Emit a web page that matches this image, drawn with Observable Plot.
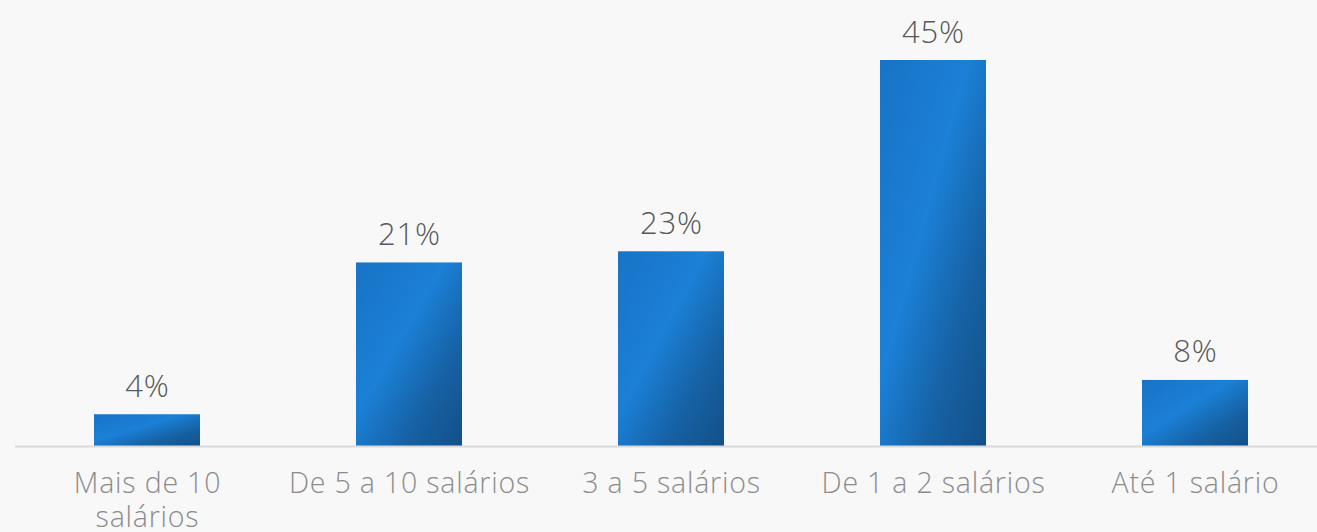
<!DOCTYPE html>
<html>
<head>
<meta charset="utf-8">
<script src="https://cdn.jsdelivr.net/npm/d3@7"></script>
<script src="https://cdn.jsdelivr.net/npm/@observablehq/plot@0.6"></script>
<style>
  html, body { margin: 0; padding: 0; background: #f8f8f8; }
  #chart svg { display: block; letter-spacing: 0.8px; }
</style>
</head>
<body>
<div id="chart"></div>
<script>
const categories = ["Mais de 10 salários", "De 5 a 10 salários", "3 a 5 salários", "De 1 a 2 salários", "Até 1 salário"];
const tickLabels = ["Mais de 10\nsalários", "De 5 a 10 salários", "3 a 5 salários", "De 1 a 2 salários", "Até 1 salário"];
const values = [3.7, 21.4, 22.7, 45.0, 7.7];
const valueLabels = ["4%", "21%", "23%", "45%", "8%"];

const data = categories.map((c, i) => ({category: c, value: values[i], label: valueLabels[i]}));

const defs = () => {
  const g = d3.create("svg:defs");
  const lg = g.append("linearGradient").attr("id", "barGrad")
    .attr("x1", 0).attr("y1", 0).attr("x2", 1).attr("y2", 1);
  [[0, "#1873c6"], [0.42, "#1b80d6"], [0.72, "#1661a4"], [1, "#135088"]].forEach(([o, c]) =>
    lg.append("stop").attr("offset", o).attr("stop-color", c));
  return g.node();
};

const chart = Plot.plot({
  width: 1317,
  height: 532,
  marginLeft: 15,
  marginRight: 0,
  marginTop: 0,
  marginBottom: 86,
  style: {background: "#f8f8f8", fontFamily: "'Open Sans', sans-serif"},
  x: {domain: categories, range: [14.75, 1327.25], paddingInner: 0.596, paddingOuter: 0.298, label: null},
  y: {domain: [0, 45], range: [446, 60], axis: null},
  marks: [
    defs,
    Plot.barY(data, {x: "category", y: "value", fill: "url(#barGrad)"}),
    Plot.ruleY([0], {stroke: "#d9d9d9", strokeWidth: 2}),
    Plot.text(data, {x: "category", y: "value", text: "label", dy: -18, fontSize: 31, fontWeight: 300, fill: "#595959", lineAnchor: "bottom"}),
    Plot.axisX({
      tickSize: 0,
      tickPadding: 23,
      fontSize: 28.5,
      fontWeight: 300,
      color: "#8c8c8c",
      tickFormat: (d) => tickLabels[categories.indexOf(d)],
      lineHeight: 1.18
    })
  ]
});
document.getElementById("chart").appendChild(chart);
</script>
</body>
</html>
